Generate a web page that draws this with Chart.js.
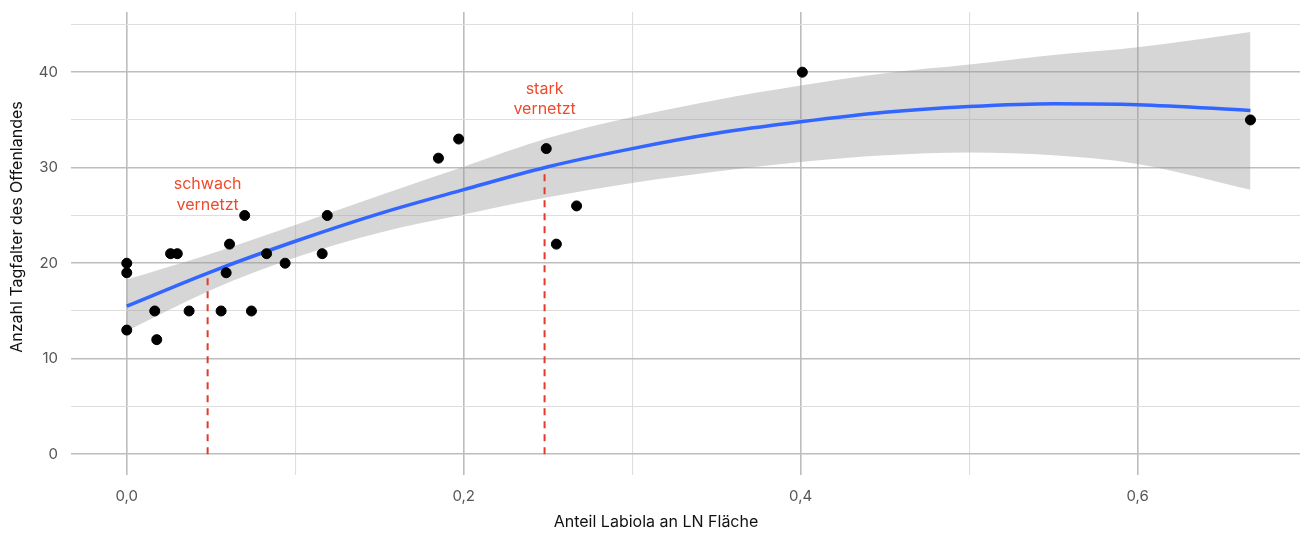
<!DOCTYPE html>
<html>
<head>
<meta charset="utf-8">
<script src="https://cdn.jsdelivr.net/npm/chart.js@4.4.1/dist/chart.umd.min.js"></script>
<style>
html,body{margin:0;padding:0;background:#fff;}
#wrap{width:1306px;height:533px;position:relative;}
</style>
</head>
<body>
<div id="wrap"><canvas id="c" width="1306" height="533"></canvas></div>
<script>
// Scatter data: share of Labiola area vs. number of butterfly species
const shareLabiola = [0, 0, 0, 0.0166, 0.0178, 0.026, 0.030, 0.037, 0.056, 0.059, 0.061, 0.070, 0.074, 0.083, 0.094, 0.116, 0.119, 0.185, 0.197, 0.249, 0.255, 0.267, 0.401, 0.667];
const butterflies  = [20, 19, 13, 15, 12, 21, 21, 15, 15, 19, 22, 25, 15, 21, 20, 21, 25, 31, 33, 32, 22, 26, 40, 35];

// Fitted curve and confidence band
const fitX     = [0, 0.05, 0.1, 0.15, 0.2, 0.25, 0.3, 0.35, 0.4, 0.45, 0.5, 0.55, 0.6, 0.667];
const fitY     = [15.5, 19.1, 22.3, 25.2, 27.7, 30.1, 32.0, 33.6, 34.8, 35.8, 36.4, 36.7, 36.6, 36.0];
const bandLow  = [12.9, 17.2, 20.6, 23.2, 25.1, 26.9, 28.4, 29.6, 30.6, 31.3, 31.6, 31.3, 30.4, 27.7];
const bandHigh = [18.3, 21.0, 24.0, 27.1, 30.1, 33.1, 35.3, 37.1, 38.6, 39.9, 40.8, 41.8, 42.6, 44.2];

// Threshold markers
const markerX = [0.048, 0.248];
const markerY = [19.0, 30.0];
const markerLabels = [["schwach", "vernetzt"], ["stark", "vernetzt"]];
const markerLabelY = [[28.3, 26.1], [38.2, 36.1]];

const xTicks = [0, 0.1, 0.2, 0.3, 0.4, 0.5, 0.6];
const yTicks = [0, 5, 10, 15, 20, 25, 30, 35, 40, 45];
const xMajor = [0, 0.2, 0.4, 0.6];
const yMajor = [0, 10, 20, 30, 40];

const xTitle = "Anteil Labiola an LN Fläche";
const yTitle = "Anzahl Tagfalter des Offenlandes";

const FONT = "Inter, 'Noto Sans', sans-serif";
const near = (v, arr) => arr.some(a => Math.abs(a - v) < 1e-6);

const datasets = [
  { type:'line', label:'low', data: fitX.map((x,i)=>({x, y: bandLow[i]})), borderWidth:0, pointRadius:0, fill:false, cubicInterpolationMode:'monotone', order:5 },
  { type:'line', label:'high', data: fitX.map((x,i)=>({x, y: bandHigh[i]})), borderWidth:0, pointRadius:0, fill:'-1', backgroundColor:'rgba(153,153,153,0.4)', cubicInterpolationMode:'monotone', order:5 },
];
markerX.forEach((mx, i) => {
  datasets.push({ type:'line', label:'marker'+i, data:[{x:mx,y:0},{x:mx,y:markerY[i]}], borderColor:'#e5392a', borderWidth:2, borderDash:[7,6], pointRadius:0, fill:false, order:4 });
});
datasets.push({ type:'line', label:'fit', data: fitX.map((x,i)=>({x, y: fitY[i]})), borderColor:'#3366ff', borderWidth:3.5, pointRadius:0, fill:false, cubicInterpolationMode:'monotone', order:3 });
datasets.push({ type:'scatter', label:'pts', data: shareLabiola.map((x,i)=>({x, y: butterflies[i]})), backgroundColor:'#000', borderColor:'#000', pointRadius:5, pointHoverRadius:5, order:1 });

const textPlugin = {
  id:'texts',
  afterDatasetsDraw(chart){
    const ctx = chart.ctx, xs = chart.scales.x, ys = chart.scales.y;
    ctx.save();
    ctx.font = "16px " + FONT;
    ctx.fillStyle = '#ee4a2c';
    ctx.textAlign = 'center';
    ctx.textBaseline = 'middle';
    markerLabels.forEach((lines, i) => {
      lines.forEach((t, j) => ctx.fillText(t, xs.getPixelForValue(markerX[i]), ys.getPixelForValue(markerLabelY[i][j])));
    });
    ctx.restore();
  },
  afterDraw(chart){
    const ctx = chart.ctx;
    ctx.save();
    ctx.font = "16px " + FONT;
    ctx.fillStyle = '#111';
    ctx.textAlign = 'center';
    ctx.textBaseline = 'middle';
    ctx.fillText(xTitle, 656, 522);
    ctx.translate(17, 227);
    ctx.rotate(-Math.PI/2);
    ctx.fillText(yTitle, 0, 0);
    ctx.restore();
  }
};

new Chart(document.getElementById('c'), {
  data:{ datasets },
  options:{
    responsive:false,
    animation:false,
    events:[],
    layout:{ padding:{ top:12, right:2, left:0, bottom:0 } },
    plugins:{ legend:{display:false}, tooltip:{enabled:false} },
    scales:{
      x:{
        type:'linear', min:-0.0331, max:0.6964,
        afterBuildTicks(s){ s.ticks = xTicks.map(v=>({value:v})); },
        afterFit(s){ s.height = 58; s.paddingLeft = 0; s.paddingRight = 0; },
        border:{display:false},
        grid:{
          drawTicks:false,
          color: c => near(c.tick.value, xMajor) ? '#bdbdbd' : '#dedede',
          lineWidth: c => near(c.tick.value, xMajor) ? 1.6 : 1.1
        },
        ticks:{
          padding:12, maxRotation:0, autoSkip:false,
          color:'#555', font:{ family:FONT, size:15 },
          callback: v => near(v, xMajor) ? v.toFixed(1).replace('.', ',') : ''
        }
      },
      y:{
        type:'linear', min:-2.17, max:46.3,
        afterBuildTicks(s){ s.ticks = yTicks.map(v=>({value:v})); },
        afterFit(s){ s.width = 71; s.paddingTop = 0; s.paddingBottom = 0; },
        border:{display:false},
        grid:{
          drawTicks:false,
          color: c => near(c.tick.value, yMajor) ? '#bdbdbd' : '#dedede',
          lineWidth: c => near(c.tick.value, yMajor) ? 1.6 : 1.1
        },
        ticks:{
          padding:13, autoSkip:false,
          color:'#555', font:{ family:FONT, size:15 },
          callback: v => near(v, yMajor) ? String(v) : ''
        }
      }
    }
  },
  plugins:[textPlugin]
});
</script>
</body>
</html>
